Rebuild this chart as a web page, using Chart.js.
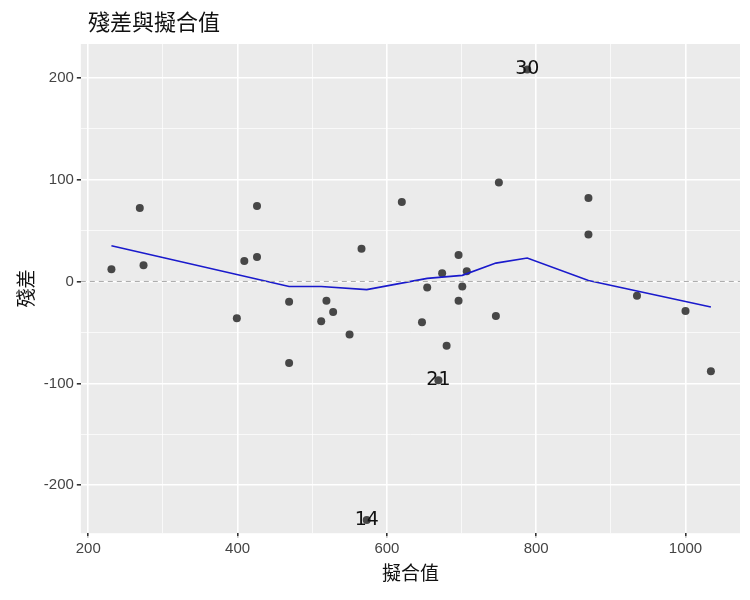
<!DOCTYPE html>
<html><head><meta charset="utf-8">
<script src="https://cdn.jsdelivr.net/npm/chart.js@4"></script>
<style>body{margin:0;background:#fff}#wrap{width:750px;height:600px}</style>
</head><body><div id="wrap"><canvas id="c"></canvas></div>
<script>
// 擬合值 / 殘差
const fitted = [231,269,274,399,409,426,426,469,469,512,519,528,550,566,573,620,654,647,674,680,669,696,696,701,707,746,750,788,870,870,935,1000,1034];
const resid  = [12,72,16,-36,20,74,24,-20,-80,-39,-19,-30,-52,32,-234,78,-6,-40,8,-63,-97,26,-19,-5,10,-34,97,208,82,46,-14,-29,-88];
const pointLabels = {14:"14", 20:"21", 27:"30"}; // index -> label
const smoothX = [231,469,512,573,654,701,746,788,870,1034];
const smoothY = [35,-5,-5,-8,3,6,18,23,1,-25];
const xTicks = [200,300,400,500,600,700,800,900,1000];
const yTicks = [-250,-200,-150,-100,-50,0,50,100,150,200];

const GRID = "#ffffff";
const bgPlugin = {
  id:"bg",
  beforeDraw(ch){
    const a = ch.chartArea, c = ch.ctx;
    c.save(); c.fillStyle="#EBEBEB"; c.fillRect(a.left,a.top,a.right-a.left,a.bottom-a.top);
    c.fillStyle="#111"; c.font="22px 'Noto Sans CJK TC'"; c.textBaseline="middle";
    c.fillText("殘差與擬合值", 88, 22);
    c.restore();
  },
  afterDatasetsDraw(ch){
    const c = ch.ctx, xs = ch.scales.x, ys = ch.scales.y;
    c.save(); c.fillStyle="#111"; c.font="19px 'DejaVu Sans'"; c.textAlign="center"; c.textBaseline="middle";
    for (const i in pointLabels){
      c.fillText(pointLabels[i], xs.getPixelForValue(fitted[i]), ys.getPixelForValue(resid[i]));
    }
    c.restore();
  }
};
const major = (ctx, step) => ctx.tick && ctx.tick.value % step === 0;

new Chart(document.getElementById("c"), {
  type:"scatter",
  data:{datasets:[
    {data:[{x:190,y:0},{x:1075,y:0}], type:"line", borderColor:"#aaaaaa", borderWidth:1, borderDash:[5,4], pointRadius:0},
    {data:smoothX.map((x,i)=>({x, y:smoothY[i]})), type:"line", borderColor:"#1a1acc", borderWidth:1.6, pointRadius:0, tension:0},
    {data:fitted.map((x,i)=>({x, y:resid[i]})), backgroundColor:"rgba(30,30,30,0.8)", borderWidth:0, pointRadius:4}
  ]},
  options:{
    responsive:true, maintainAspectRatio:false, animation:false,
    layout:{padding:{left:10,right:10,top:44,bottom:12}},
    plugins:{legend:{display:false}, tooltip:{enabled:false}, title:{display:false}},
    scales:{
      x:{min:190, max:1073,
        afterBuildTicks:s=>{s.ticks=xTicks.map(v=>({value:v}));},
        ticks:{color:"#444", font:{size:15}, callback:v=> v%200===0 ? v : ""},
        grid:{color:GRID, lineWidth:ctx=> major(ctx,200)?1.6:0.7, tickLength:4,
          tickColor:ctx=> major(ctx,200)?"#333":"rgba(0,0,0,0)"},
        border:{display:false},
        title:{display:true, text:"擬合值", color:"#111", font:{size:19, family:"'Noto Sans CJK TC'"}, padding:{top:0}}},
      y:{min:-247, max:233,
        afterBuildTicks:s=>{s.ticks=yTicks.map(v=>({value:v}));},
        ticks:{color:"#444", font:{size:15}, callback:v=> v%100===0 ? v : ""},
        grid:{color:GRID, lineWidth:ctx=> major(ctx,100)?1.6:0.7, tickLength:4,
          tickColor:ctx=> major(ctx,100)?"#333":"rgba(0,0,0,0)"},
        border:{display:false},
        title:{display:true, text:"殘差", color:"#111", font:{size:19, family:"'Noto Sans CJK TC'"}}}
    }
  },
  plugins:[bgPlugin]
});
</script></body></html>
